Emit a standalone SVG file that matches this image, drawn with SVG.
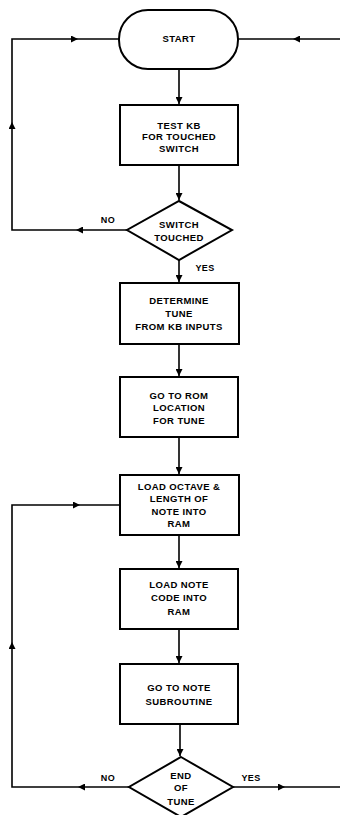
<svg xmlns="http://www.w3.org/2000/svg" width="340" height="815" viewBox="0 0 340 815">
<defs>
<marker id="ah" viewBox="0 0 10 10" refX="10" refY="5" markerWidth="7" markerHeight="7" markerUnits="userSpaceOnUse" orient="auto">
<path d="M0,0 L10,5 L0,10 Z" fill="#000"/>
</marker>
</defs>
<style>
.box{fill:#fff;stroke:#000;stroke-width:2}
.ln{fill:none;stroke:#000;stroke-width:1.6}
.t{font-family:"Liberation Sans",Arial,sans-serif;font-weight:bold;font-size:9.5px;text-anchor:middle;letter-spacing:0.4px;fill:#000}
.l{font-family:"Liberation Sans",Arial,sans-serif;font-weight:bold;font-size:9px;text-anchor:middle;letter-spacing:0.4px;fill:#000}
</style>
<rect width="340" height="815" fill="#fff"/>
<g id="connectors">
<path class="ln" d="M179,70 L179,104" marker-end="url(#ah)"/>
<path class="ln" d="M179,165 L179,200" marker-end="url(#ah)"/>
<path class="ln" d="M179,260 L179,282" marker-end="url(#ah)"/>
<path class="ln" d="M179,344 L179,376" marker-end="url(#ah)"/>
<path class="ln" d="M179,437 L179,474" marker-end="url(#ah)"/>
<path class="ln" d="M179,535 L179,568" marker-end="url(#ah)"/>
<path class="ln" d="M179,629 L179,663" marker-end="url(#ah)"/>
<path class="ln" d="M180,724 L180,756" marker-end="url(#ah)"/>
<path class="ln" d="M127,230 L76,230" marker-end="url(#ah)"/>
<path class="ln" d="M76,230 L12,230 L12,122" marker-end="url(#ah)"/>
<path class="ln" d="M12,122 L12,39 L78,39" marker-end="url(#ah)"/>
<path class="ln" d="M78,39 L119,39"/>
<path class="ln" d="M340,39 L293,39" marker-end="url(#ah)"/>
<path class="ln" d="M293,39 L238,39"/>
<path class="ln" d="M129,787 L78,787" marker-end="url(#ah)"/>
<path class="ln" d="M78,787 L12,787 L12,642" marker-end="url(#ah)"/>
<path class="ln" d="M12,642 L12,505 L80,505" marker-end="url(#ah)"/>
<path class="ln" d="M80,505 L120,505"/>
<path class="ln" d="M233,787 L285,787" marker-end="url(#ah)"/>
<path class="ln" d="M285,787 L340,787"/>
</g>
<g id="start">
<rect class="box" x="119" y="10" width="119" height="59" rx="29" ry="29"/>
<text class="t" x="179" y="42">START</text>
</g>
<g id="test-kb">
<rect class="box" x="120" y="105" width="118" height="60"/>
<text class="t" x="179" y="129">TEST KB</text>
<text class="t" x="179" y="140">FOR TOUCHED</text>
<text class="t" x="179" y="152">SWITCH</text>
</g>
<g id="switch-touched">
<path class="box" d="M179,201 L232,230 L179,260 L127,230 Z"/>
<text class="t" x="179" y="228">SWITCH</text>
<text class="t" x="179" y="241">TOUCHED</text>
<text class="l" x="108" y="223">NO</text>
<text class="l" x="205" y="271">YES</text>
</g>
<g id="determine">
<rect class="box" x="120" y="283" width="119" height="61"/>
<text class="t" x="179" y="304">DETERMINE</text>
<text class="t" x="179" y="317">TUNE</text>
<text class="t" x="179" y="330">FROM KB INPUTS</text>
</g>
<g id="go-rom">
<rect class="box" x="120" y="377" width="118" height="60"/>
<text class="t" x="179" y="399">GO TO ROM</text>
<text class="t" x="179" y="411">LOCATION</text>
<text class="t" x="179" y="424">FOR TUNE</text>
</g>
<g id="load-octave">
<rect class="box" x="120" y="475" width="119" height="60"/>
<text class="t" x="179" y="490">LOAD OCTAVE &amp;</text>
<text class="t" x="179" y="502">LENGTH OF</text>
<text class="t" x="179" y="515">NOTE INTO</text>
<text class="t" x="179" y="527">RAM</text>
</g>
<g id="load-note">
<rect class="box" x="120" y="569" width="118" height="60"/>
<text class="t" x="179" y="588">LOAD NOTE</text>
<text class="t" x="179" y="601">CODE INTO</text>
<text class="t" x="179" y="615">RAM</text>
</g>
<g id="go-note">
<rect class="box" x="120" y="664" width="118" height="60"/>
<text class="t" x="179" y="691">GO TO NOTE</text>
<text class="t" x="179" y="705">SUBROUTINE</text>
</g>
<g id="end-of-tune">
<path class="box" d="M181,757 L233,787 L181,817 L129,787 Z"/>
<text class="t" x="181" y="779">END</text>
<text class="t" x="181" y="791">OF</text>
<text class="t" x="181" y="805">TUNE</text>
<text class="l" x="108" y="781">NO</text>
<text class="l" x="251" y="781">YES</text>
</g>
</svg>
